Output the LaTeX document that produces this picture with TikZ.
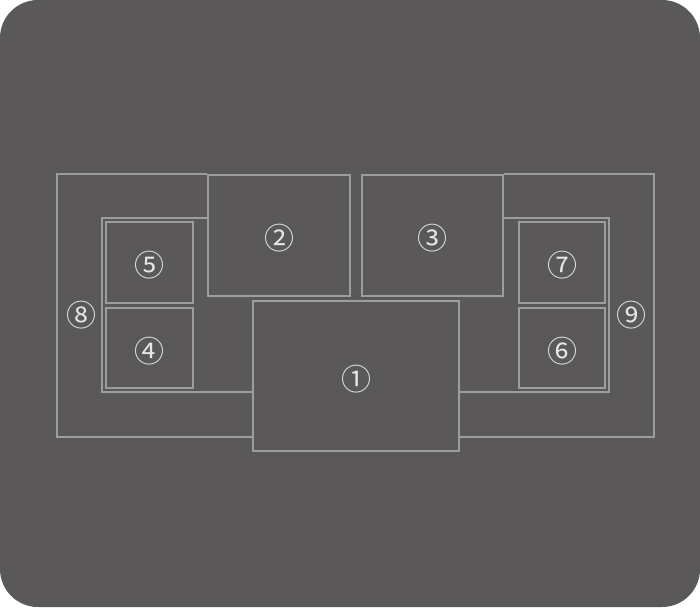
\documentclass[tikz,border=0pt]{standalone}
\usepackage{fontspec}
\newfontfamily\circfont{Noto Sans CJK JP}
\definecolor{panelgray}{HTML}{5A5859}
\definecolor{wallgray}{HTML}{9C9D9C}
\definecolor{labelgray}{HTML}{E6E6E6}
\tikzset{
  wall/.style={draw=wallgray, line width=2.4pt},
  room/.style={wall, inner sep=0pt, anchor=center},
  num/.style={text=labelgray, inner sep=0pt, font=\circfont\fontsize{30}{30}\selectfont}
}
\begin{document}
\begin{tikzpicture}[x=1pt, y=-1pt]
		\useasboundingbox (0,0) rectangle (700,607);
		% Panel
		\fill[white] (0,0) rectangle (700,607);
		\fill[panelgray, rounded corners=38pt] (0,0) rectangle (700,607);
		
		% --- MIDDLE BLOCKS ---
		\node[room, minimum width=206, minimum height=150] (r1) at (356,376) {};
		\node[room, minimum width=142, minimum height=121] (r2) at (279,235.5) {};
		\node[room, minimum width=141, minimum height=121] (r3) at (432.5,235.5) {};
		
		% --- LEFT SIDE ---
		\node[room, minimum width=87, minimum height=81] (r5) at (149.5,262.5) {};
		\node[room, minimum width=87, minimum height=80] (r4) at (149.5,348) {};
		\draw[wall] (r2.north west) -| (57,437) -- (r1.west |- 0,437);
		\draw[wall] (r2.west |- 0,218) -| (102,392) -- (r1.west |- 0,392);
		\coordinate (r8) at (81,312);
		
		% --- RIGHT SIDE ---
		\node[room, minimum width=86, minimum height=81] (r7) at (562,262.5) {};
		\node[room, minimum width=86, minimum height=80] (r6) at (562,348) {};
		\draw[wall] (r3.north east) -| (654,437) -- (r1.east |- 0,437);
		\draw[wall] (r3.east |- 0,218) -| (609,392) -- (r1.east |- 0,392);
		\coordinate (r9) at (631,312);
		
		% Numbers (glyphs sit a bit high, so nudge down)
		\foreach \r/\t in {r1/①, r2/②, r3/③, r4/④, r5/⑤, r6/⑥, r7/⑦, r8/⑧, r9/⑨}
			\node[num] (l\r) at ([yshift=-3pt]\r) {\t};
		
	\end{tikzpicture}
\end{document}
